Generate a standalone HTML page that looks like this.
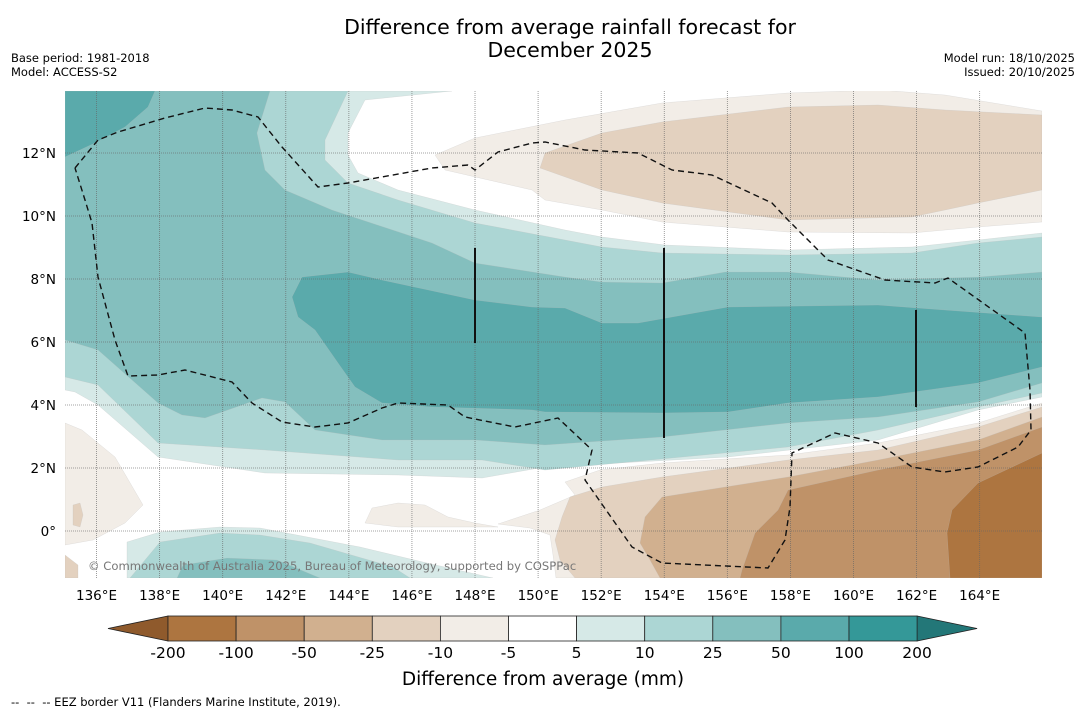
<!DOCTYPE html>
<html><head><meta charset="utf-8"><style>
body{margin:0;background:#fff;width:1085px;height:713px;overflow:hidden;font-family:"DejaVu Sans","Liberation Sans",sans-serif}
svg{position:absolute;left:0;top:0}
</style></head><body>
<svg id="s" width="1085" height="713" viewBox="0 0 1085 713" xmlns="http://www.w3.org/2000/svg">
<text x="570" y="34" font-size="20.5" text-anchor="middle">Difference from average rainfall forecast for</text>
<text x="570" y="57" font-size="20.5" text-anchor="middle">December 2025</text>
<text x="11" y="62" font-size="11.5">Base period: 1981-2018</text>
<text x="11" y="76" font-size="11.5">Model: ACCESS-S2</text>
<text x="1075" y="62" font-size="11.5" text-anchor="end">Model run: 18/10/2025</text>
<text x="1075" y="76" font-size="11.5" text-anchor="end">Issued: 20/10/2025</text>
<defs><clipPath id="mc"><rect x="65" y="91" width="977" height="487"/></clipPath></defs>
<g id="map" clip-path="url(#mc)"></g>
<g id="axes"></g>
<g id="cbar"></g>
<text x="543" y="685" font-size="18.5" text-anchor="middle">Difference from average (mm)</text>
<text x="11" y="706" font-size="11.5" xml:space="preserve">--  --  -- EEZ border V11 (Flanders Marine Institute, 2019).</text>
</svg>
<script>
const levels=[-200,-100,-50,-25,-10,-5,5,10,25,50,100,200];
const colors=['#ad7540','#bf9268','#d1b08f','#e3d1bf','#f2ede7','#ffffff','#d6e9e7','#acd6d4','#84bfbe','#5aaaab','#349898'];
const lonTicks=[136,138,140,142,144,146,148,150,152,154,156,158,160,162,164];
const latTicks=[0,2,4,6,8,10,12];
const ns='http://www.w3.org/2000/svg';
const X=lon=>65+(lon-135)*31.54, Y=lat=>531-lat*31.5;
function mk(t,a,p){const e=document.createElementNS(ns,t);for(const k in a)e.setAttribute(k,a[k]);(p||document.getElementById('s')).appendChild(e);return e;}
const map=document.getElementById('map');
const bands=[
[6,"65,91 452,91 365,100 348,133 348,155 358,173 398,190 475,210 565,230 602,237 665,245 788,250 912,247 978,240 1042,233 1042,397 978,410 878,440 728,457 545,467 482,478 398,475 265,473 158,457 98,405 75,392 65,390"],
[7,"65,91 348,91 325,140 325,160 348,183 398,200 475,223 565,240 602,247 662,253 788,255 912,253 978,243 1042,237 1042,393 978,407 878,430 788,447 545,470 482,460 398,460 265,450 158,443 98,385 65,377"],
[8,"65,91 270,91 257,133 265,170 285,190 332,210 432,243 475,263 565,277 602,282 662,283 725,272 788,272 878,280 978,277 1042,272 1042,383 978,402 878,417 788,423 662,437 545,445 475,440 382,440 315,430 285,402 262,398 205,418 182,415 158,403 132,380 98,350 65,340"],
[9,"65,91 155,91 148,107 125,127 95,143 65,157"],
[9,"292,297 302,277 348,272 382,280 475,300 532,307 565,308 602,323 638,323 728,307 878,305 945,310 1042,317 1042,367 978,383 878,397 788,403 728,412 662,413 545,412 532,410 432,407 382,403 355,387 338,363 315,330 298,317"],
[6,"127,578 127,542 160,532 220,527 260,528 360,547 427,563 493,578"],
[7,"130,578 160,542 220,533 260,535 310,543 393,567 410,578"],
[8,"177,578 183,565 227,558 277,560 320,578"],
[4,"435,155 475,138 565,120 662,103 788,93 880,90 945,95 1042,111 1042,222 978,227 912,233 788,232 662,222 602,210 545,200 532,190 445,170"],
[3,"540,168 545,153 602,133 662,122 788,107 878,105 945,110 1042,115 1042,190 978,203 912,217 788,220 662,203 602,190"],
[4,"65,423 82,430 115,457 143,505 125,523 93,540 65,545"],
[3,"73,505 80,503 83,515 80,527 73,525"],
[3,"65,555 78,565 78,578 65,578"],
[4,"365,523 372,508 398,503 425,505 448,517 475,523 498,527 460,527 398,527"],
[4,"1042,403 978,423 878,443 788,455 662,463 600,470 565,482 575,495 540,510 498,524 530,528 550,535 553,555 556,578 1042,578"],
[3,"1042,407 978,427 878,450 788,460 662,477 602,487 570,497 562,517 555,540 560,560 575,578 1042,578"],
[2,"1042,417 978,440 878,460 788,477 662,497 645,517 640,543 650,560 660,578 1042,578"],
[1,"1042,427 978,450 878,470 788,490 778,510 755,533 742,570 740,578 1042,578"],
[0,"1042,453 978,483 952,510 947,533 950,578 1042,578"]];
bands.forEach(b=>{const p=mk('polygon',{points:b[1],fill:colors[b[0]],stroke:'#bbb','stroke-width':0.4,'stroke-opacity':0.5},map);

});
lonTicks.forEach(l=>{const g=mk('line',{x1:X(l),x2:X(l),y1:91,y2:578,stroke:'#666','stroke-width':0.8,'stroke-dasharray':'1,1','stroke-opacity':0.8},map);

});
latTicks.forEach(l=>{const g=mk('line',{x1:65,x2:1042,y1:Y(l),y2:Y(l),stroke:'#666','stroke-width':0.8,'stroke-dasharray':'1,1','stroke-opacity':0.8},map);

});
const eez=mk('polyline',{points:"75,168 98,140 118,132 165,118 205,108 232,110 258,117 282,147 318,187 348,183 432,168 468,165 475,170 498,152 532,143 545,142 585,150 638,153 672,170 712,175 772,203 788,220 828,260 885,280 935,283 948,278 1025,333 1030,390 1031,430 1018,447 978,467 945,472 912,467 878,443 835,433 792,453 790,507 785,540 768,568 662,563 632,547 585,480 592,450 558,418 515,427 465,417 448,405 398,403 382,408 348,423 315,427 282,422 252,403 232,382 185,370 158,375 128,376 115,340 98,277 92,223 85,200 75,168",fill:'none',stroke:'#111','stroke-width':1.4,'stroke-dasharray':'6,4'},map);


[[475,248,343],[664,248,438],[916,310,407]].forEach(v=>{const l=mk('line',{x1:v[0],x2:v[0],y1:v[1],y2:v[2],stroke:'#111','stroke-width':2},map);

});
const cp=mk('text',{x:88,y:570,'font-size':11.6,fill:'#777'},map);cp.textContent='© Commonwealth of Australia 2025, Bureau of Meteorology, supported by COSPPac';


const ax=document.getElementById('axes');
lonTicks.forEach(l=>{const t=mk('text',{x:X(l),y:600,'font-size':13.5,'text-anchor':'middle'},ax);t.textContent=l+'°E';

});
latTicks.forEach(l=>{const t=mk('text',{x:56,y:Y(l)+5,'font-size':13.5,'text-anchor':'end'},ax);t.textContent=l===0?'0°':l+'°N';

});
const cb=document.getElementById('cbar');const cx0=168,cw=68.1,cy=616,ch=25;
mk('polygon',{points:`108,${cy+ch/2} ${cx0},${cy} ${cx0},${cy+ch}`,fill:'#8f5a2c',stroke:'#222','stroke-width':0.8},cb);
mk('polygon',{points:`${cx0+11*cw},${cy} ${cx0+11*cw+60},${cy+ch/2} ${cx0+11*cw},${cy+ch}`,fill:'#237778',stroke:'#222','stroke-width':0.8},cb);
colors.forEach((c,i)=>{const r=mk('rect',{x:cx0+i*cw,y:cy,width:cw,height:ch,fill:c,stroke:'#222','stroke-width':0.8},cb);

});
levels.forEach((v,i)=>{const t=mk('text',{x:cx0+i*cw,y:658,'font-size':15.5,'text-anchor':'middle'},cb);t.textContent=v;

});
</script>
</body></html>
